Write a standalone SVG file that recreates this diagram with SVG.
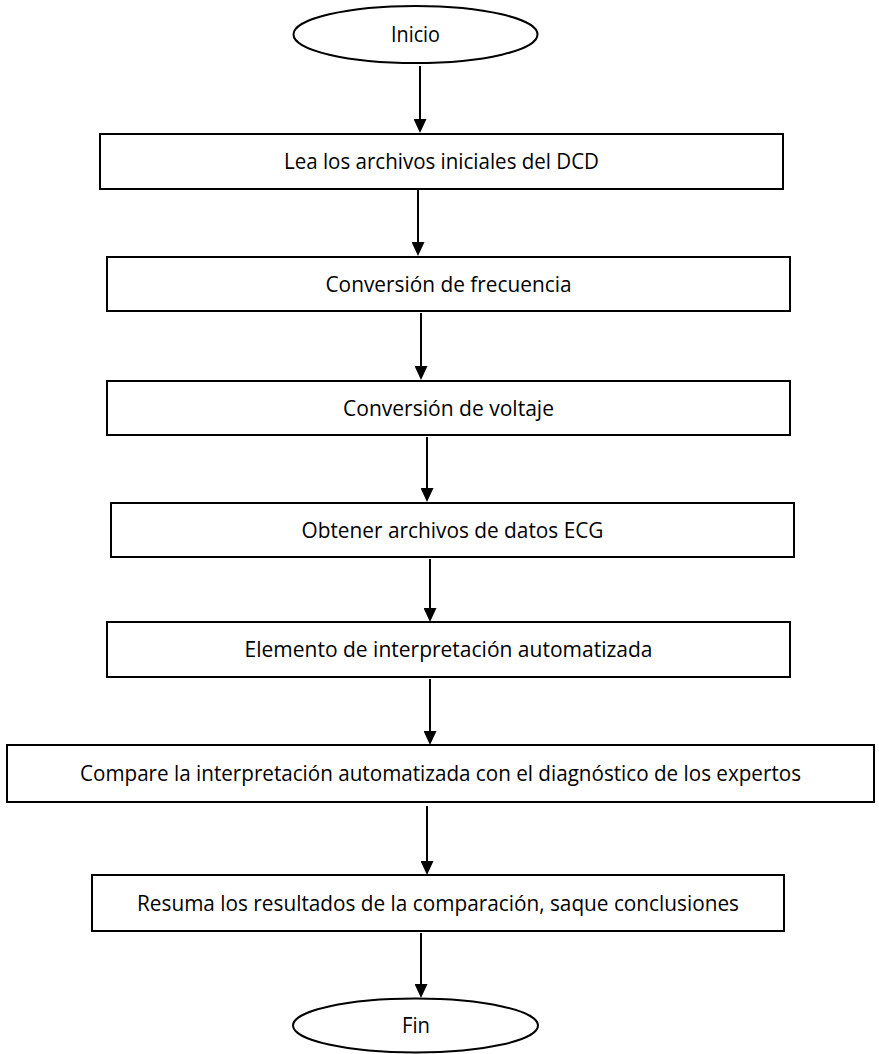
<svg xmlns="http://www.w3.org/2000/svg" width="879" height="1054" viewBox="0 0 879 1054">
<style>
.box{fill:#fff;stroke:#000;stroke-width:2}
.t{font-family:"Open Sans","Noto Sans","Liberation Sans",sans-serif;font-size:21px;fill:#000;text-anchor:middle}
.c{stroke:#000;stroke-width:2;fill:none;marker-end:url(#arr)}
</style>
<defs>
<marker id="arr" viewBox="0 0 14 13" refX="12" refY="6.5" markerWidth="14" markerHeight="13" orient="auto" markerUnits="userSpaceOnUse">
<path d="M0,0 L14,6.5 L0,13 z" fill="#000"/>
</marker>
</defs>
<rect width="879" height="1054" fill="#fff"/>
<g id="connectors">
<line class="c" x1="420" y1="66" x2="420" y2="131"/>
<line class="c" x1="418" y1="190" x2="418" y2="254"/>
<line class="c" x1="421" y1="313" x2="421" y2="378"/>
<line class="c" x1="427" y1="437" x2="427" y2="500"/>
<line class="c" x1="430" y1="559" x2="430" y2="620"/>
<line class="c" x1="430" y1="679" x2="430" y2="743"/>
<line class="c" x1="427" y1="806" x2="427" y2="873"/>
<line class="c" x1="421" y1="933" x2="421" y2="996"/>
</g>
<g id="inicio">
<ellipse class="box" cx="415.5" cy="34.5" rx="122" ry="28.5"/>
<text class="t" x="415.5" y="42" textLength="49" lengthAdjust="spacingAndGlyphs">Inicio</text>
</g>
<g id="n1">
<rect class="box" x="100" y="134" width="683" height="55"/>
<text class="t" x="441.5" y="169" textLength="315" lengthAdjust="spacingAndGlyphs">Lea los archivos iniciales del DCD</text>
</g>
<g id="n2">
<rect class="box" x="107" y="257" width="683" height="54"/>
<text class="t" x="448.5" y="291.5" textLength="246" lengthAdjust="spacingAndGlyphs">Conversión de frecuencia</text>
</g>
<g id="n3">
<rect class="box" x="107" y="381" width="683" height="54"/>
<text class="t" x="448.5" y="415.5" textLength="211" lengthAdjust="spacingAndGlyphs">Conversión de voltaje</text>
</g>
<g id="n4">
<rect class="box" x="111" y="503" width="683" height="54"/>
<text class="t" x="452.5" y="537.5" textLength="302" lengthAdjust="spacingAndGlyphs">Obtener archivos de datos ECG</text>
</g>
<g id="n5">
<rect class="box" x="107" y="622" width="683" height="55"/>
<text class="t" x="448.5" y="657" textLength="408" lengthAdjust="spacingAndGlyphs">Elemento de interpretación automatizada</text>
</g>
<g id="n6">
<rect class="box" x="7" y="745" width="867" height="57"/>
<text class="t" x="440.5" y="781" textLength="721" lengthAdjust="spacingAndGlyphs">Compare la interpretación automatizada con el diagnóstico de los expertos</text>
</g>
<g id="n7">
<rect class="box" x="92" y="875" width="692" height="56"/>
<text class="t" x="438" y="910.5" textLength="602" lengthAdjust="spacingAndGlyphs">Resuma los resultados de la comparación, saque conclusiones</text>
</g>
<g id="fin">
<ellipse class="box" cx="415.5" cy="1025.5" rx="122.5" ry="27"/>
<text class="t" x="416" y="1033" textLength="28" lengthAdjust="spacingAndGlyphs">Fin</text>
</g>
</svg>
